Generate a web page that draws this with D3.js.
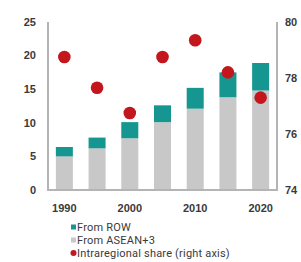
<!DOCTYPE html>
<html>
<head>
<meta charset="utf-8">
<script src="https://cdn.jsdelivr.net/npm/d3@7"></script>
<style>
  body { margin: 0; background: #fff; }
  svg { display: block; font-family: "Liberation Sans", Arial, sans-serif; }
</style>
</head>
<body>
<div id="chart"></div>
<script>
// values
const years = [1990, 1995, 2000, 2005, 2010, 2015, 2020];
const fromAsean = [5.0, 6.2, 7.7, 10.1, 12.1, 13.8, 14.8];
const fromRow = [1.4, 1.6, 2.4, 2.5, 3.1, 3.7, 4.1];
const intraShare = [78.75, 77.65, 76.75, 78.75, 79.35, 78.2, 77.3];
const leftTicks = [0, 5, 10, 15, 20, 25];
const rightTicks = [74, 76, 78, 80];
const yearLabels = [1990, 2000, 2010, 2020];

const colors = { row: "#169690", asean: "#c8c8c8", share: "#c3161d", axis: "#b4b4b4", text: "#3a3a3a" };

const width = 301, height = 262;
const margin = { left: 48, right: 24, top: 22, bottom: 72 };

const svg = d3.select("#chart").append("svg")
    .attr("width", width)
    .attr("height", height);

const x = d3.scaleBand()
    .domain(years)
    .range([margin.left, width - margin.right])
    .paddingInner(0.48)
    .paddingOuter(0.24);

const y = d3.scaleLinear().domain([0, 25]).range([height - margin.bottom, margin.top]);
const y2 = d3.scaleLinear().domain([74, 80]).range([height - margin.bottom, margin.top]);

const stackData = years.map((yr, i) => ({ year: yr, asean: fromAsean[i], row: fromRow[i] }));
const series = d3.stack().keys(["asean", "row"])(stackData);

svg.append("g")
    .selectAll("g")
    .data(series)
    .join("g")
    .attr("fill", d => colors[d.key])
    .selectAll("rect")
    .data(d => d)
    .join("rect")
    .attr("x", d => x(d.data.year))
    .attr("width", x.bandwidth())
    .attr("y", d => y(d[1]))
    .attr("height", d => y(d[0]) - y(d[1]));

// axes frame
const axisG = svg.append("g").attr("stroke", colors.axis).attr("stroke-width", 2);
axisG.append("line")
    .attr("x1", margin.left).attr("x2", margin.left)
    .attr("y1", y(25)).attr("y2", y(0) + 1);
axisG.append("line")
    .attr("x1", width - margin.right).attr("x2", width - margin.right)
    .attr("y1", y2(80)).attr("y2", y2(74) + 1);
axisG.append("line")
    .attr("x1", margin.left).attr("x2", width - margin.right)
    .attr("y1", y(0)).attr("y2", y(0));

// dots
svg.append("g")
    .selectAll("circle")
    .data(intraShare)
    .join("circle")
    .attr("cx", (d, i) => x(years[i]) + x.bandwidth() / 2)
    .attr("cy", d => y2(d))
    .attr("r", 6.3)
    .attr("fill", colors.share);

// tick labels
const tickFont = { size: "11px", weight: "bold" };
svg.append("g")
    .selectAll("text")
    .data(leftTicks)
    .join("text")
    .attr("x", 36)
    .attr("y", d => y(d))
    .attr("dy", "0.35em")
    .attr("text-anchor", "end")
    .attr("font-size", tickFont.size)
    .attr("font-weight", tickFont.weight)
    .attr("fill", colors.text)
    .text(d => d);

svg.append("g")
    .selectAll("text")
    .data(rightTicks)
    .join("text")
    .attr("x", width - margin.right + 8)
    .attr("y", d => y2(d))
    .attr("dy", "0.35em")
    .attr("font-size", tickFont.size)
    .attr("font-weight", tickFont.weight)
    .attr("fill", colors.text)
    .text(d => d);

svg.append("g")
    .selectAll("text")
    .data(yearLabels)
    .join("text")
    .attr("x", d => x(d) + x.bandwidth() / 2)
    .attr("y", 208)
    .attr("dy", "0.35em")
    .attr("text-anchor", "middle")
    .attr("font-size", tickFont.size)
    .attr("font-weight", tickFont.weight)
    .attr("fill", colors.text)
    .text(d => d);

// legend
const legendItems = [
    { label: "From ROW", color: colors.row, shape: "square" },
    { label: "From ASEAN+3", color: colors.asean, shape: "square" },
    { label: "Intraregional share (right axis)", color: colors.share, shape: "circle" }
];
const legend = svg.append("g").attr("transform", "translate(71,227)");
const item = legend.selectAll("g")
    .data(legendItems)
    .join("g")
    .attr("transform", (d, i) => `translate(0,${i * 13})`);
item.filter(d => d.shape === "square").append("rect")
    .attr("x", 0).attr("y", -2.5).attr("width", 5).attr("height", 5)
    .attr("fill", d => d.color);
item.filter(d => d.shape === "circle").append("circle")
    .attr("cx", 2.5).attr("cy", 0).attr("r", 3)
    .attr("fill", d => d.color);
item.append("text")
    .attr("x", 6)
    .attr("dy", "0.35em")
    .attr("font-family", "Roboto, 'Liberation Sans', sans-serif")
    .attr("font-size", "11px")
    .attr("letter-spacing", "0.2px")
    .attr("fill", colors.text)
    .text(d => d.label);
</script>
</body>
</html>
